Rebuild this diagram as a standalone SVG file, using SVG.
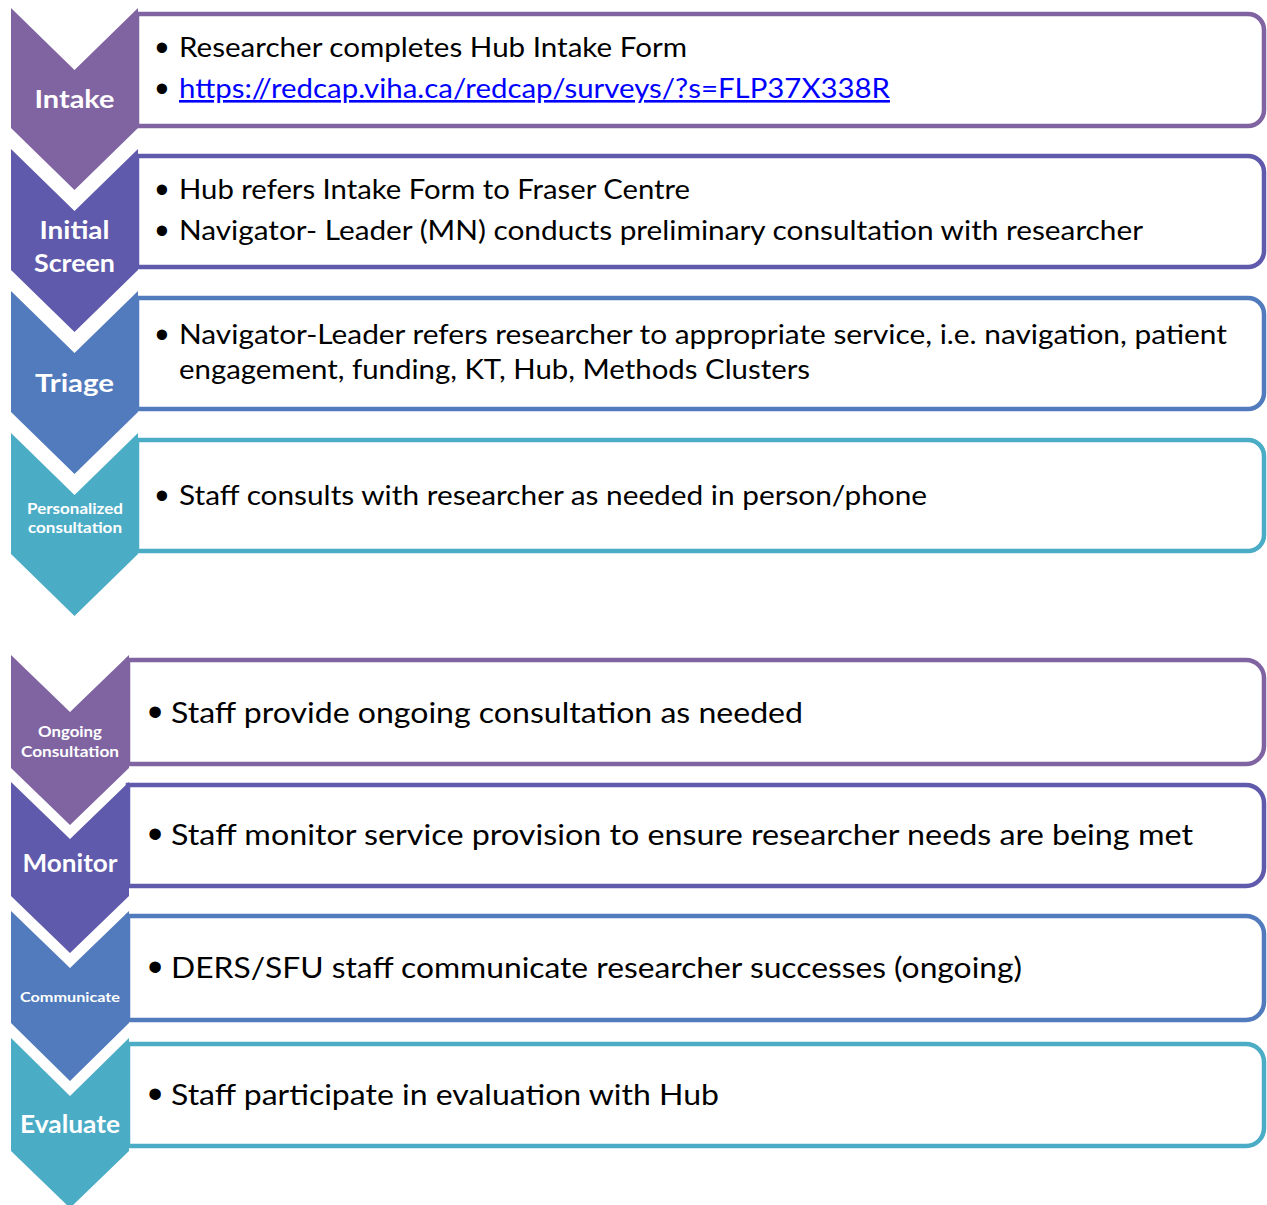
<svg xmlns="http://www.w3.org/2000/svg" width="1267" height="1205" viewBox="0 0 1267 1205">
<style>
.box{fill:#fff;stroke-width:4.5}
.chev{stroke:none}
.t{font-family:Lato,"Liberation Sans",sans-serif;fill:#000;font-size:26px}
.tb{font-family:Lato,"Liberation Sans",sans-serif;fill:#000;font-size:29px}
.bul{font-family:"Liberation Sans",sans-serif;fill:#000;text-anchor:middle;font-size:38px}
.bul2{font-family:"Liberation Sans",sans-serif;fill:#000;text-anchor:middle;font-size:42px}
.lab{font-family:Lato,"Liberation Sans",sans-serif;fill:#fff;font-weight:bold;text-anchor:middle}
.link{fill:#0000ff;text-decoration:underline}
.c1{fill:#8064a2}.s1{stroke:#8064a2}
.c2{fill:#5f5aab}.s2{stroke:#5f5aab}
.c3{fill:#517bbd}.s3{stroke:#517bbd}
.c4{fill:#4bacc6}.s4{stroke:#4bacc6}
</style>
<g id="connectors"></g>

<g id="node-intake">
<path class="box s1" d="M137 14 H1248 A16 16 0 0 1 1264 30 V110 A16 16 0 0 1 1248 126 H137 Z"/>
<path class="chev c1" d="M11 8 L74.5 70 L138 8 V128 L74.5 190 L11 128 Z"/>
<text class="lab" x="74.5" y="108" font-size="25" textLength="80" lengthAdjust="spacingAndGlyphs">Intake</text>
<text class="bul" x="162" y="60.5">•</text>
<text class="t" x="179" y="57" textLength="508" lengthAdjust="spacingAndGlyphs">Researcher completes Hub Intake Form</text>
<text class="bul" x="162" y="101.5">•</text>
<text class="t link" x="179" y="98" textLength="711" lengthAdjust="spacingAndGlyphs">https://redcap.viha.ca/redcap/surveys/?s=FLP37X338R</text>
</g>

<g id="node-initial-screen">
<path class="box s2" d="M137 156 H1248 A16 16 0 0 1 1264 172 V251 A16 16 0 0 1 1248 267 H137 Z"/>
<path class="chev c2" d="M11 149 L74.5 211 L138 149 V270 L74.5 332 L11 270 Z"/>
<text class="lab" x="74.5" y="239" font-size="24" textLength="70" lengthAdjust="spacingAndGlyphs">Initial</text>
<text class="lab" x="74.5" y="272" font-size="24" textLength="81" lengthAdjust="spacingAndGlyphs">Screen</text>
<text class="bul" x="162" y="202.5">•</text>
<text class="t" x="179" y="199" textLength="511" lengthAdjust="spacingAndGlyphs">Hub refers Intake Form to Fraser Centre</text>
<text class="bul" x="162" y="243.5">•</text>
<text class="t" x="179" y="240" textLength="964" lengthAdjust="spacingAndGlyphs">Navigator- Leader (MN) conducts preliminary consultation with researcher</text>
</g>

<g id="node-triage">
<path class="box s3" d="M137 298 H1248 A16 16 0 0 1 1264 314 V393 A16 16 0 0 1 1248 409 H137 Z"/>
<path class="chev c3" d="M11 291 L74.5 353 L138 291 V412 L74.5 474 L11 412 Z"/>
<text class="lab" x="74.5" y="392" font-size="25" textLength="79" lengthAdjust="spacingAndGlyphs">Triage</text>
<text class="bul" x="162" y="347.5">•</text>
<text class="t" x="179" y="344" textLength="1048" lengthAdjust="spacingAndGlyphs">Navigator-Leader refers researcher to appropriate service, i.e. navigation, patient</text>
<text class="t" x="179" y="379" textLength="631" lengthAdjust="spacingAndGlyphs">engagement, funding, KT, Hub, Methods Clusters</text>
</g>

<g id="node-personalized">
<path class="box s4" d="M137 440 H1248 A16 16 0 0 1 1264 456 V535 A16 16 0 0 1 1248 551 H137 Z"/>
<path class="chev c4" d="M11 433 L74.5 495 L138 433 V554 L74.5 616 L11 554 Z"/>
<text class="lab" x="75" y="514" font-size="15.5" textLength="96" lengthAdjust="spacingAndGlyphs">Personalized</text>
<text class="lab" x="75" y="533" font-size="15.5" textLength="94" lengthAdjust="spacingAndGlyphs">consultation</text>
<text class="bul" x="162" y="508.5">•</text>
<text class="t" x="179" y="505" textLength="748" lengthAdjust="spacingAndGlyphs">Staff consults with researcher as needed in person/phone</text>
</g>

<g id="node-ongoing">
<path class="box s1" d="M128 660 H1246 A18 18 0 0 1 1264 678 V746 A18 18 0 0 1 1246 764 H128 Z"/>
<path class="chev c1" d="M11 655 L70 712 L129 655 V768 L70 825 L11 768 Z"/>
<text class="lab" x="70" y="737" font-size="14.5" textLength="64" lengthAdjust="spacingAndGlyphs">Ongoing</text>
<text class="lab" x="70" y="757" font-size="14.5" textLength="98" lengthAdjust="spacingAndGlyphs">Consultation</text>
<text class="bul2" x="155" y="726">•</text>
<text class="tb" x="171" y="723" textLength="632" lengthAdjust="spacingAndGlyphs">Staff provide ongoing consultation as needed</text>
</g>

<g id="node-monitor">
<path class="box s2" d="M128 785 H1246 A18 18 0 0 1 1264 803 V868 A18 18 0 0 1 1246 886 H128 Z"/>
<path class="chev c2" d="M11 782 L70 839 L129 782 V896 L70 953 L11 896 Z"/>
<text class="lab" x="70" y="872" font-size="25" textLength="95" lengthAdjust="spacingAndGlyphs">Monitor</text>
<text class="bul2" x="155" y="848">•</text>
<text class="tb" x="171" y="845" textLength="1022" lengthAdjust="spacingAndGlyphs">Staff monitor service provision to ensure researcher needs are being met</text>
</g>

<g id="node-communicate">
<path class="box s3" d="M128 916 H1246 A18 18 0 0 1 1264 934 V1002 A18 18 0 0 1 1246 1020 H128 Z"/>
<path class="chev c3" d="M11 911 L70 968 L129 911 V1023 L70 1081 L11 1023 Z"/>
<text class="lab" x="70" y="1002" font-size="13.5" textLength="100" lengthAdjust="spacingAndGlyphs">Communicate</text>
<text class="bul2" x="155" y="981">•</text>
<text class="tb" x="171" y="978" textLength="851" lengthAdjust="spacingAndGlyphs">DERS/SFU staff communicate researcher successes (ongoing)</text>
</g>

<g id="node-evaluate">
<path class="box s4" d="M128 1044 H1246 A18 18 0 0 1 1264 1062 V1128 A18 18 0 0 1 1246 1146 H128 Z"/>
<path class="chev c4" d="M11 1038 L70 1096 L129 1038 V1151 L70 1208 L11 1151 Z"/>
<text class="lab" x="70" y="1133" font-size="25" textLength="100" lengthAdjust="spacingAndGlyphs">Evaluate</text>
<text class="bul2" x="155" y="1108">•</text>
<text class="tb" x="171" y="1105" textLength="548" lengthAdjust="spacingAndGlyphs">Staff participate in evaluation with Hub</text>
</g>
</svg>
